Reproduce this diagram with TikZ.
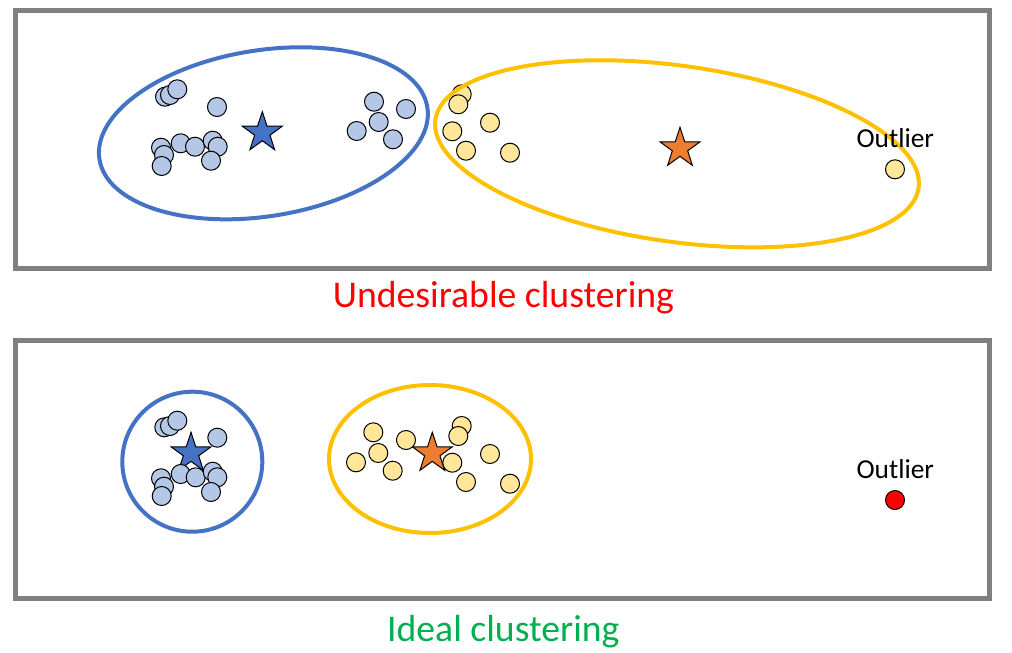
\documentclass[tikz,border=0pt]{standalone}
\usepackage{fontspec}
\setmainfont{Carlito}
\usepackage{tikz}
\usetikzlibrary{shapes.geometric}
\definecolor{cFrame}{RGB}{128,128,128}
\definecolor{cBlue}{RGB}{68,114,196}
\definecolor{cBlueLight}{RGB}{180,199,231}
\definecolor{cGold}{RGB}{255,192,0}
\definecolor{cGoldLight}{RGB}{255,230,153}
\definecolor{cOrange}{RGB}{237,125,49}
\definecolor{cRed}{RGB}{255,0,0}
\definecolor{cGreen}{RGB}{0,176,80}
\tikzset{
	panel/.style    ={draw=cFrame, line width=5pt},
	hull/.style     ={line width=4pt},
	pt/.style       ={draw=black, line width=1pt},
	centroid/.style ={star, star points=5, star point ratio=2.6, minimum size=42pt, inner sep=0pt, draw=black, line width=1pt},
	caption/.style  ={anchor=base, font=\fontsize{37.7}{42}\selectfont},
	outl/.style     ={anchor=base, font=\fontsize{27.4}{30}\selectfont},
}

\begin{document}
\begin{tikzpicture}[x=1pt, y=-1pt]
	\useasboundingbox (0,0) rectangle (1012,653);
	% panels
	\draw[panel] (15.2,10.5) rectangle (989.5,268.5);
	\draw[panel] (15.2,340.5) rectangle (989.5,598.5);
	\node[caption, text=cRed] (capTop) at (503.4,307.3) {Undesirable clustering};
	\node[caption, text=cGreen] (capBot) at (503.3,641) {Ideal clustering};
	% undesirable clustering
	\node[centroid, fill=cBlue] (cA) at (262.3,132.7) {};
	\node[centroid, fill=cOrange] (cB) at (680,148.3) {};
	\foreach \x/\y in {165/96.7, 170/95, 177.3/89.3, 217/107, 161/147.7, 164/155, 161.7/166,
			180.7/143.3, 195/146.7, 212.7/140.7, 217.7/146.7, 211/160.7,
			374/101.7, 406/109, 378.7/122, 356.7/131, 393/139.3}
		\draw[pt, fill=cBlueLight] (\x,\y) circle (9.5);
	\foreach \x/\y in {461.7/94.3, 458.3/104.3, 490/122.7, 452.3/131.3, 466/150.7, 510/152.7, 895/169.3}
		\draw[pt, fill=cGoldLight] (\x,\y) circle (9.5);
	\draw[hull, cBlue, rotate around={9:(263.4,133.3)}] (263.4,133.3) ellipse [x radius=166, y radius=83];
	\draw[hull, cGold, rotate around={-8:(677,153.8)}] (677,153.8) ellipse [x radius=244, y radius=88];
	\node[outl] (outTop) at (895.3,147.7) {Outlier};
	% ideal clustering
	\node[centroid, fill=cBlue] (cC) at (191,453.3) {};
	\node[centroid, fill=cOrange] (cD) at (432.3,453.3) {};
	\foreach \x/\y in {164.3/427.3, 170/426, 177.3/420.7, 217.3/437.7, 161/478.3, 164/486.7, 161.7/496,
			180.7/474, 195.7/477.3, 212.7/471.7, 217.3/477.3, 211/492}
		\draw[pt, fill=cBlueLight] (\x,\y) circle (9.5);
	\foreach \x/\y in {373.3/432.3, 378.3/453, 356/462.3, 392.7/470.7, 406/440, 461.7/426,
			458.3/436, 452.3/462.7, 490/454, 466/482, 510/483.7}
		\draw[pt, fill=cGoldLight] (\x,\y) circle (9.5);
	\draw[hull, cBlue] (192.3,461.7) circle (70);
	\draw[hull, cGold] (430,459) ellipse [x radius=101, y radius=74];
	\draw[pt, fill=cRed] (895,500) circle (9.5);
	\node[outl] (outBot) at (895.3,478.3) {Outlier};
\end{tikzpicture}
\end{document}
